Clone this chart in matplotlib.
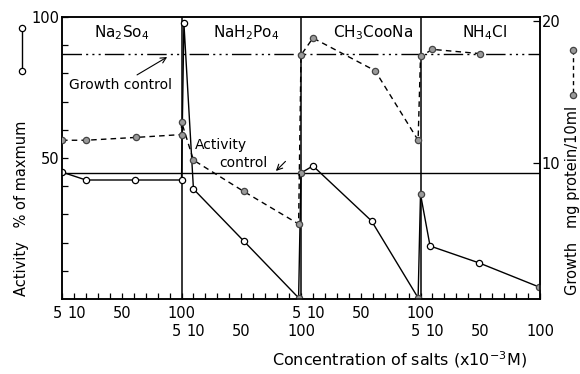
import matplotlib.pyplot as plt
from matplotlib.lines import Line2D
import numpy as np

#######################################
#### Data
#######################################
salts = [r"Na$_2$So$_4$", r"NaH$_2$Po$_4$", r"CH$_3$CooNa", r"NH$_4$Cl"]

# activity, % of maximum (solid line, open circles) - concentration x10^-3 M per salt
act_conc = [[0, 20, 61, 100], [2, 10, 52, 98], [0, 10, 59, 98], [0, 8, 49, 99]]
act_val = [[45.0, 42.2, 42.2, 42.2], [97.9, 39.0, 20.6, 0.4],
           [44.7, 47.2, 27.7, 0.4], [37.2, 18.8, 12.8, 4.3]]
act_gray = [[0, 0, 0, 0], [0, 0, 0, 1], [1, 0, 0, 1], [1, 0, 0, 1]]   # grey filled points

# growth, mg protein/10ml (dashed line, grey circles)
grw_conc = [[0, 20, 62, 100], [0, 10, 52, 98], [0, 10, 62, 98], [0, 10, 50]]
grw_val = [[11.6, 11.6, 11.8, 12.0], [12.9, 10.2, 8.0, 5.7],
           [17.6, 18.8, 16.5, 11.6], [17.5, 18.0, 17.7]]

act_control = 44.7     # %
grw_control = 17.7     # mg

x_labels = ["5", "10", "50", "100"]
x_label_pos = [-4, 12, 50, 100]

#######################################
#### Layout
#######################################
W, H = 580, 374
fs = 10.5
plt.rcParams['font.family'] = 'DejaVu Sans'

fig = plt.figure(figsize=(W/100, H/100), dpi=100)
ax = fig.add_axes([62/W, 1-299/H, (540-62)/W, (299-17)/H])
ax2 = ax.twinx()

# every panel is 0..100 of concentration, shifted by 100 per salt
xa = np.concatenate([np.array(c) + 100*i for i, c in enumerate(act_conc)])
ya = np.concatenate(act_val)
fa = np.concatenate(act_gray).astype(bool)
xg = np.concatenate([np.array(c) + 100*i for i, c in enumerate(grw_conc)])
yg = np.concatenate(grw_val)

ax.set_xlim(0, 400)
ax.set_ylim(0, 100)
ax2.set_ylim(0.42, 20.28)

# control lines and panel borders
ax.axhline(act_control, color='k', lw=1.0)
ax2.axhline(grw_control, color='k', lw=1.0, dashes=(14, 3, 1.5, 3, 1.5, 3, 1.5, 3))
for i in range(1, 4):
   ax.axvline(100*i, color='k', lw=1.1)

# activity
ax.plot(xa, ya, '-', color='k', lw=1.0, zorder=3)
ax.plot(xa[~fa], ya[~fa], 'o', mfc='white', mec='k', ms=4.5, mew=0.9, zorder=4)
ax.plot(xa[fa], ya[fa], 'o', mfc='#9a9a9a', mec='#444444', ms=4.5, mew=0.9, zorder=4)

# growth
ax2.plot(xg, yg, color='k', lw=1.0, dashes=(4, 3), zorder=3)
ax2.plot(xg, yg, 'o', mfc='#9a9a9a', mec='#444444', ms=4.5, mew=0.9, zorder=4)

# ticks
ax.set_xticks(np.arange(0, 401, 10))
ax.set_xticklabels([])
ax.tick_params(axis='x', direction='in', length=4, width=0.9)
ax.set_yticks([50, 100])
ax.set_yticklabels(['50', '100'], fontsize=fs)
ax.set_yticks(np.arange(10, 100, 10), minor=True)
ax.tick_params(axis='y', which='both', direction='in', length=4, width=0.9, pad=2)
ax2.set_yticks([10, 20])
ax2.set_yticklabels(['10', '20'], fontsize=fs)
ax2.tick_params(axis='y', direction='in', length=5, width=0.9, pad=1)
for a in (ax, ax2):
   for s in a.spines.values():
      s.set_linewidth(1.1)

# concentration labels, two staggered rows
xt = ax.get_xaxis_transform()
for i in range(4):
   row_y = -0.05 if i % 2 == 0 else -0.117
   for lab, p in zip(x_labels, x_label_pos):
      ax.text(100*i + p, row_y, lab, transform=xt, ha='center', va='center', fontsize=fs)

# panel titles
title_x = [50, 154, 260, 354]
for t, x in zip(salts, title_x):
   ax.text(x, 94.3, t, ha='center', va='center', fontsize=fs+0.5)

# control annotations
ax.annotate("Growth control", xy=(88, 85.8), xytext=(49, 76), ha='center', va='center',
            fontsize=fs-0.5, arrowprops=dict(arrowstyle='->', lw=0.8, color='k', shrinkA=0, shrinkB=0))
ax.text(111, 54.6, "Activity", ha='left', va='center', fontsize=fs-0.5)
ax.annotate("control", xy=(179, 45.4), xytext=(132, 48.2), ha='left', va='center',
            fontsize=fs-0.5)
ax.annotate("", xy=(179, 45.4), xytext=(187, 48.8),
            arrowprops=dict(arrowstyle='->', lw=0.8, color='k', shrinkA=0, shrinkB=0))

# axis titles with their symbols
fig.text(22/W, 1-208/H, "Activity   % of maxmum", rotation=90, ha='center', va='center', fontsize=fs)
fig.add_artist(Line2D([22/W, 22/W], [1-28/H, 1-71/H], transform=fig.transFigure, color='k', lw=1.0,
                      marker='o', mfc='white', mec='k', ms=4.5, mew=0.9))
fig.text(573/W, 1-200/H, "Growth   mg protein/10ml", rotation=90, ha='center', va='center', fontsize=fs)
fig.add_artist(Line2D([573/W, 573/W], [1-50/H, 1-95/H], transform=fig.transFigure, color='k', lw=1.0,
                      dashes=(3, 2.5), marker='o', mfc='#9a9a9a', mec='#444444', ms=4.5, mew=0.9))
fig.text(399/W, 1-360/H, "Concentration of salts (x10$^{-3}$M)", ha='center', va='center', fontsize=fs+1)

fig.savefig("out.png", dpi=100)
